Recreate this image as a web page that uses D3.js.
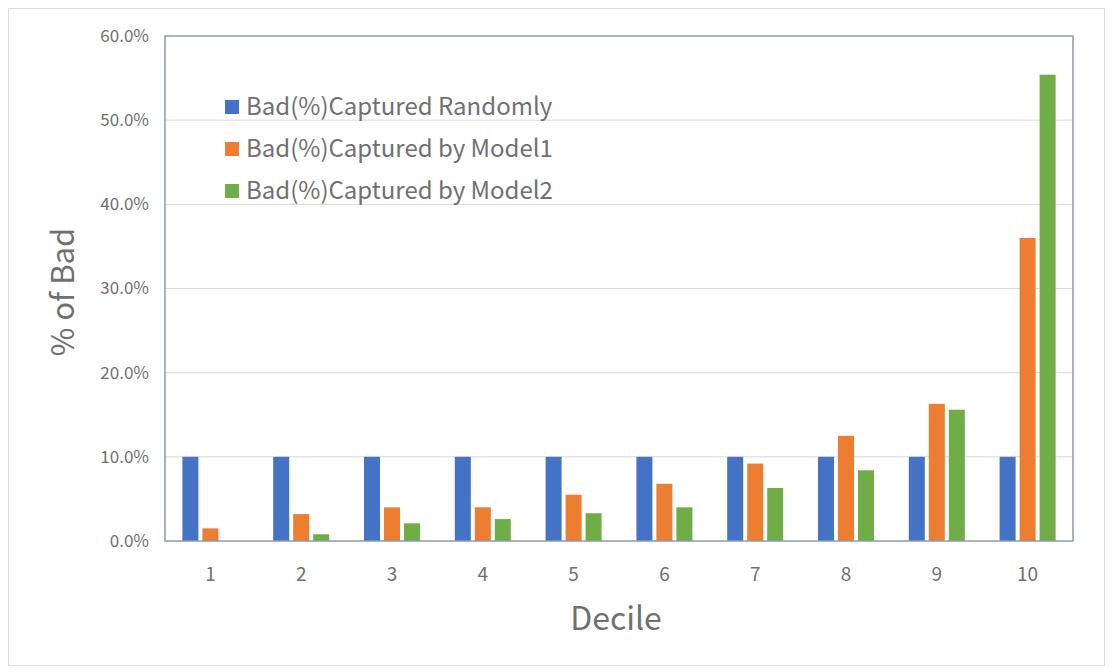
<!DOCTYPE html>
<html>
<head>
<meta charset="utf-8">
<script src="https://cdn.jsdelivr.net/npm/d3@7"></script>
<style>
  html, body { margin: 0; padding: 0; background: #fff; }
  svg { display: block; font-family: "Noto Sans CJK SC", "Noto Sans", sans-serif; }
</style>
</head>
<body>
<svg id="chart" width="1113" height="672"></svg>
<script>
// Share of bad accounts captured per decile
const deciles = ["1", "2", "3", "4", "5", "6", "7", "8", "9", "10"];
const seriesNames = ["Bad(%)Captured Randomly", "Bad(%)Captured by Model1", "Bad(%)Captured by Model2"];
const randomly = [10, 10, 10, 10, 10, 10, 10, 10, 10, 10];
const model1 = [1.5, 3.2, 4.0, 4.0, 5.5, 6.8, 9.2, 12.5, 16.3, 36.0];
const model2 = [0.0, 0.8, 2.1, 2.6, 3.3, 4.0, 6.3, 8.4, 15.6, 55.4];
const yTicks = [0, 10, 20, 30, 40, 50, 60];
const colors = ["#4472C4", "#ED7D31", "#70AD47"];

const seriesValues = [randomly, model1, model2];
const textColor = "#707070";
const fontStack = "\"Noto Sans CJK SC\", \"Noto Sans\", sans-serif";

const svg = d3.select("#chart");
const W = 1113, H = 672;
const margin = { left: 165, right: 40, top: 36, bottom: 131 };
const plotW = W - margin.left - margin.right;
const plotH = H - margin.top - margin.bottom;

// outer chart border
svg.append("rect")
  .attr("x", 8.5).attr("y", 8.5)
  .attr("width", W - 17).attr("height", H - 15)
  .attr("fill", "#fff").attr("stroke", "#e2dcdc").attr("stroke-width", 1);

const g = svg.append("g").attr("transform", `translate(${margin.left},${margin.top})`);

const x0 = d3.scaleBand().domain(deciles).range([0, plotW]).paddingInner(0).paddingOuter(0);
const groupW = 56;
const x1 = d3.scaleBand().domain(d3.range(seriesNames.length))
  .range([x0.bandwidth() / 2 - groupW / 2, x0.bandwidth() / 2 + groupW / 2])
  .paddingInner(0.2).paddingOuter(0);
const y = d3.scaleLinear().domain([0, 60]).range([plotH, 0]);

// horizontal gridlines
g.append("g").selectAll("line")
  .data(yTicks.filter(t => t > 0 && t < 60))
  .join("line")
  .attr("x1", 0).attr("x2", plotW)
  .attr("y1", d => y(d)).attr("y2", d => y(d))
  .attr("stroke", "#d9d9d9").attr("stroke-width", 1);

// bars
const groups = g.append("g").selectAll("g")
  .data(deciles)
  .join("g")
  .attr("transform", d => `translate(${x0(d)},0)`);

groups.selectAll("rect")
  .data((d, i) => seriesValues.map((vals, s) => ({ s, v: vals[i] })))
  .join("rect")
  .attr("x", d => x1(d.s))
  .attr("width", x1.bandwidth())
  .attr("y", d => y(d.v))
  .attr("height", d => plotH - y(d.v))
  .attr("fill", d => colors[d.s]);

// plot frame
g.append("rect")
  .attr("x", 0).attr("y", 0).attr("width", plotW).attr("height", plotH)
  .attr("fill", "none").attr("stroke", "#8a9bb0").attr("stroke-width", 1.5);

// y axis labels
const yAxis = d3.axisLeft(y).tickValues(yTicks).tickSize(0).tickPadding(16)
  .tickFormat(d => d3.format(".1f")(d) + "%");
g.append("g").call(yAxis)
  .call(a => a.select(".domain").remove())
  .selectAll("text")
  .attr("font-size", 17).attr("fill", textColor)
  .attr("font-family", fontStack);

// x axis labels
const xAxis = d3.axisBottom(x0).tickSize(0).tickPadding(27);
g.append("g").attr("transform", `translate(0,${plotH})`).call(xAxis)
  .call(a => a.select(".domain").remove())
  .selectAll("text")
  .attr("font-size", 19).attr("fill", textColor)
  .attr("font-family", fontStack);

// axis titles
svg.append("text")
  .attr("transform", `translate(74,${292}) rotate(-90)`)
  .attr("text-anchor", "middle")
  .attr("font-size", 31).attr("fill", textColor)
  .text("% of Bad");

svg.append("text")
  .attr("x", 616).attr("y", 630)
  .attr("text-anchor", "middle")
  .attr("font-size", 32).attr("fill", textColor)
  .text("Decile");

// legend
const legend = svg.append("g").attr("transform", "translate(225,107)");
const li = legend.selectAll("g").data(seriesNames).join("g")
  .attr("transform", (d, i) => `translate(0,${i * 42})`);
li.append("rect").attr("x", 0).attr("y", -7).attr("width", 14).attr("height", 14)
  .attr("fill", (d, i) => colors[i]);
li.append("text").attr("x", 21).attr("y", 0).attr("dy", "0.35em")
  .attr("font-size", 24).attr("fill", textColor)
  .text(d => d);
</script>
</body>
</html>
